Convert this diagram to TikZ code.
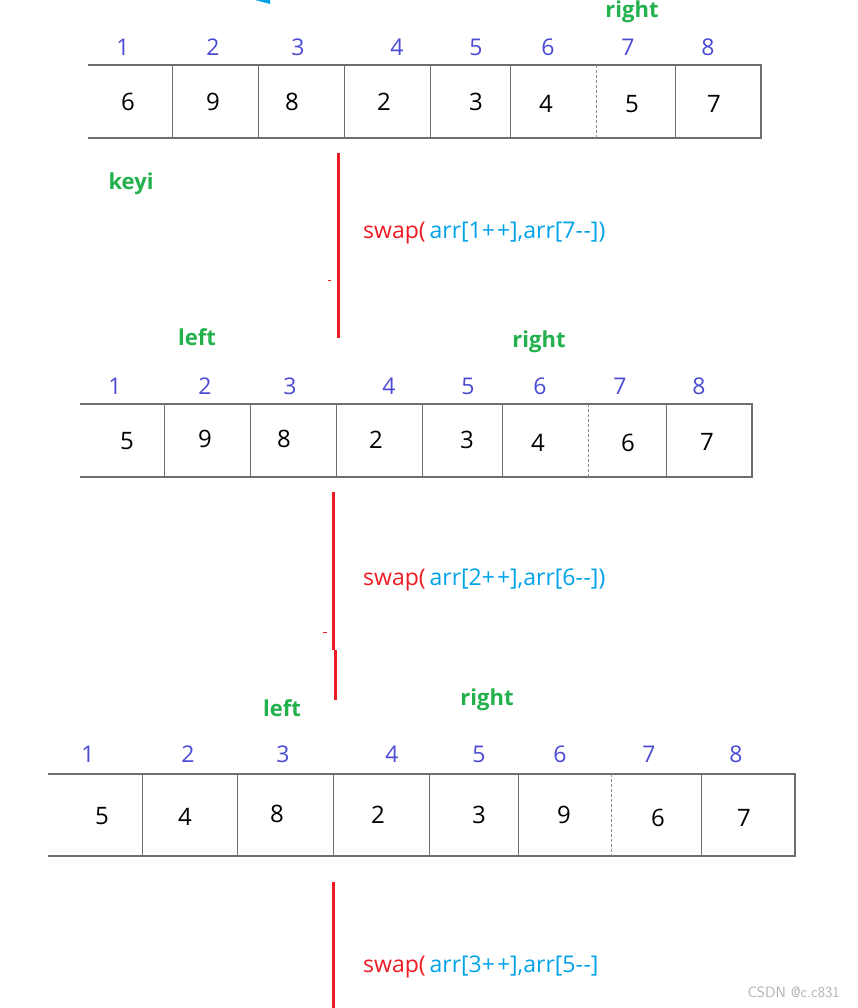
\documentclass[tikz,border=0pt]{standalone}
\usepackage{fontspec}
\setmainfont{Open Sans}
\definecolor{kgreen}{HTML}{22B14C}
\definecolor{kidx}{HTML}{4B4BD6}
\definecolor{kblue}{HTML}{00A2E8}
\definecolor{kred}{HTML}{ED1C24}
\definecolor{kline}{HTML}{6E6E6E}
\newcommand{\pp}{+\kern2pt+}
\newcommand{\mm}{-\kern0.5pt-}
\begin{document}
\begin{tikzpicture}[x=1pt,y=-1pt,
  arrbox/.style={draw=kline,line width=1.6pt},
  divider/.style={draw=kline,line width=0.9pt},
  dashdiv/.style={draw=kline!80,line width=1pt,dash pattern=on 3pt off 2pt},
  idx/.style={text=kidx,font=\fontsize{23}{23}\selectfont,inner sep=0pt},
  val/.style={text=black,font=\fontsize{24}{24}\selectfont,inner sep=0pt},
  ptr/.style={text=kgreen,font=\bfseries\fontsize{22}{22}\selectfont,inner sep=0pt},
  redline/.style={draw=kred,line width=3pt},
  swaptxt/.style={font=\fontsize{23}{23}\selectfont,inner sep=0pt,anchor=west},
  wmark/.style={text=gray!60,font=\fontsize{15}{15}\selectfont,inner sep=0pt,anchor=east}]
\useasboundingbox (0,0) rectangle (858,1008);
\fill[white] (0,0) rectangle (858,1008);
% partial cyan shape at top
\fill[kblue] (255,0) -- (270,0) -- (270,4) -- cycle;

% ---------- Array 1 ----------
\node[ptr] (r1) at (632,12) {right};
\draw[arrbox] (88,65) -- (761,65) -- (761,138) -- (88,138);
\foreach \x in {172,258,344,430,510,675} \draw[divider] (\x,65) -- (\x,138);
\draw[dashdiv] (596,65) -- (596,138);
\foreach \x/\i in {123/1,213/2,298/3,397/4,476/5,548/6,628/7,708/8}
  \node[idx] (a1i\i) at (\x,47) {\i};
\foreach \x/\v/\y/\i in {128/6/102/1,213/9/102/2,292/8/102/3,384/2/102/4,476/3/102/5,546/4/104/6,632/5/104/7,714/7/104/8}
  \node[val] (a1v\i) at (\x,\y) {\v};
\node[ptr] (k1) at (131,184) {keyi};

% ---------- Step 1 ----------
\coordinate (s1a) at (338,153);
\coordinate (s1b) at (338,338);
\draw[redline] (s1a) -- (s1b);
\draw[kred,line width=1pt] (328,280) -- (331,280);
\node[swaptxt] (sw1) at (363,233) {\textcolor{kred}{swap(}\,\textcolor{kblue}{arr[1\pp],arr[7\mm])}};

% ---------- Array 2 ----------
\node[ptr] (l2) at (197,337) {left};
\node[ptr] (r2) at (539,342) {right};
\draw[arrbox] (80,404) -- (752,404) -- (752,477) -- (80,477);
\foreach \x in {164,250,336,422,502,666} \draw[divider] (\x,404) -- (\x,477);
\draw[dashdiv] (588,404) -- (588,477);
\foreach \x/\i in {115/1,205/2,290/3,389/4,468/5,540/6,620/7,699/8}
  \node[idx] (a2i\i) at (\x,386) {\i};
\foreach \x/\v/\y/\i in {127/5/441/1,205/9/439/2,284/8/439/3,376/2/440/4,467/3/440/5,538/4/443/6,628/6/443/7,707/7/442/8}
  \node[val] (a2v\i) at (\x,\y) {\v};

% ---------- Step 2 ----------
\coordinate (s2a) at (333,492);
\coordinate (s2m) at (333,650);
\coordinate (s2n) at (335,650);
\coordinate (s2b) at (335,700);
\draw[redline] (s2a) -- (s2m);
\draw[redline] (s2n) -- (s2b);
\draw[kred,line width=1pt] (323,632) -- (327,632);
\node[swaptxt] (sw2) at (363,580) {\textcolor{kred}{swap(}\,\textcolor{kblue}{arr[2\pp],arr[6\mm])}};

% ---------- Array 3 ----------
\node[ptr] (l3) at (282,708) {left};
\node[ptr] (r3) at (487,700) {right};
\draw[arrbox] (48,774) -- (795,774) -- (795,856) -- (48,856);
\foreach \x in {142,237,333,429,518,701} \draw[divider] (\x,774) -- (\x,856);
\draw[dashdiv] (611,774) -- (611,856);
\foreach \x/\i in {88/1,188/2,283/3,392/4,479/5,560/6,649/7,736/8}
  \node[idx] (a3i\i) at (\x,754) {\i};
\foreach \x/\v/\y/\i in {102/5/816/1,185/4/817/2,277/8/814/3,378/2/815/4,479/3/815/5,564/9/815/6,658/6/818/7,744/7/818/8}
  \node[val] (a3v\i) at (\x,\y) {\v};

% ---------- Step 3 ----------
\coordinate (s3a) at (333,882);
\coordinate (s3b) at (333,1008);
\draw[redline] (s3a) -- (s3b);
\node[swaptxt] (sw3) at (363,967) {\textcolor{kred}{swap(}\,\textcolor{kblue}{arr[3\pp],arr[5\mm]}};

\node[wmark] (wm) at (840,992) {\sffamily CSDN @c.c831};
\end{tikzpicture}
\end{document}
